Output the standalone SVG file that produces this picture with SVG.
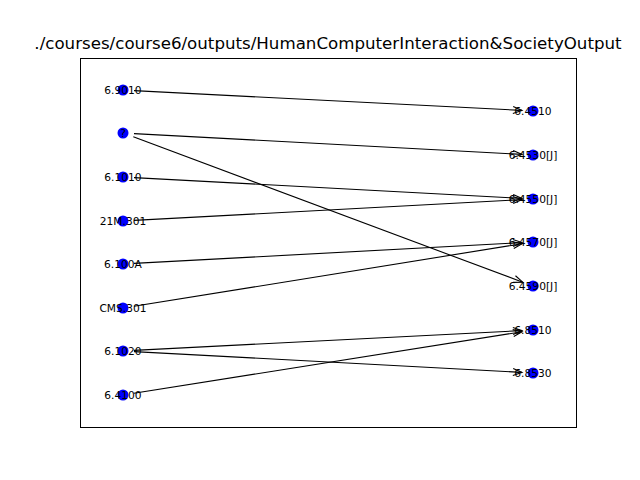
<svg xmlns="http://www.w3.org/2000/svg" width="640" height="480" viewBox="0 0 640 480">
<style>
.node circle{fill:#0000ff;stroke:none}
.node text{font-family:"DejaVu Sans",sans-serif;font-size:10.67px;fill:#000;text-anchor:middle;dominant-baseline:central}
.edges line{stroke:#000;stroke-width:1.1;marker-end:url(#arr)}
.title{font-family:"DejaVu Sans",sans-serif;font-size:16.67px;text-anchor:middle;fill:#000}
</style>
<defs>
<marker id="arr" markerUnits="userSpaceOnUse" markerWidth="12" markerHeight="10" refX="0" refY="0" viewBox="-10 -5 12 10" orient="auto" overflow="visible">
<path d="M-9,-3.5 L0,0 L-9,3.5" fill="none" stroke="#000" stroke-width="1.1"/>
</marker>
</defs>
<rect width="640" height="480" fill="#fff"/>
<rect x="80.5" y="58.5" width="496" height="369" fill="none" stroke="#000" stroke-width="1"/>
<text class="title" x="328" y="49">./courses/course6/outputs/HumanComputerInteraction&amp;SocietyOutput</text>
<g class="edges" id="edges">
<line x1="134" y1="90.6" x2="522" y2="110.4"/>
<line x1="134" y1="133.6" x2="522" y2="154.4"/>
<line x1="133.3" y1="136.8" x2="522.7" y2="282.2"/>
<line x1="134" y1="177.6" x2="522" y2="198.4"/>
<line x1="134" y1="220.4" x2="522" y2="199.6"/>
<line x1="134" y1="263.4" x2="522" y2="242.6"/>
<line x1="133.9" y1="306.3" x2="522.1" y2="243.7"/>
<line x1="134" y1="350.4" x2="522" y2="330.6"/>
<line x1="134" y1="351.6" x2="522" y2="372.4"/>
<line x1="133.9" y1="393.3" x2="522.1" y2="331.7"/>
</g>
<g class="node" id="n6_9010"><circle cx="123" cy="90" r="5.5"/><text x="123" y="90">6.9010</text></g>
<g class="node" id="nq"><circle cx="123" cy="133" r="5.5"/><text x="123" y="133">?</text></g>
<g class="node" id="n6_1010"><circle cx="123" cy="177" r="5.5"/><text x="123" y="177">6.1010</text></g>
<g class="node" id="n21M_301"><circle cx="123" cy="221" r="5.5"/><text x="123" y="221">21M.301</text></g>
<g class="node" id="n6_100A"><circle cx="123" cy="264" r="5.5"/><text x="123" y="264">6.100A</text></g>
<g class="node" id="nCMS_301"><circle cx="123" cy="308" r="5.5"/><text x="123" y="308">CMS.301</text></g>
<g class="node" id="n6_1020"><circle cx="123" cy="351" r="5.5"/><text x="123" y="351">6.1020</text></g>
<g class="node" id="n6_4100"><circle cx="123" cy="395" r="5.5"/><text x="123" y="395">6.4100</text></g>
<g class="node" id="n6_4510"><circle cx="533" cy="111" r="5.5"/><text x="533" y="111">6.4510</text></g>
<g class="node" id="n6_4530J"><circle cx="533" cy="155" r="5.5"/><text x="533" y="155">6.4530[J]</text></g>
<g class="node" id="n6_4550J"><circle cx="533" cy="199" r="5.5"/><text x="533" y="199">6.4550[J]</text></g>
<g class="node" id="n6_4570J"><circle cx="533" cy="242" r="5.5"/><text x="533" y="242">6.4570[J]</text></g>
<g class="node" id="n6_4590J"><circle cx="533" cy="286" r="5.5"/><text x="533" y="286">6.4590[J]</text></g>
<g class="node" id="n6_8510"><circle cx="533" cy="330" r="5.5"/><text x="533" y="330">6.8510</text></g>
<g class="node" id="n6_8530"><circle cx="533" cy="373" r="5.5"/><text x="533" y="373">6.8530</text></g>
</svg>
